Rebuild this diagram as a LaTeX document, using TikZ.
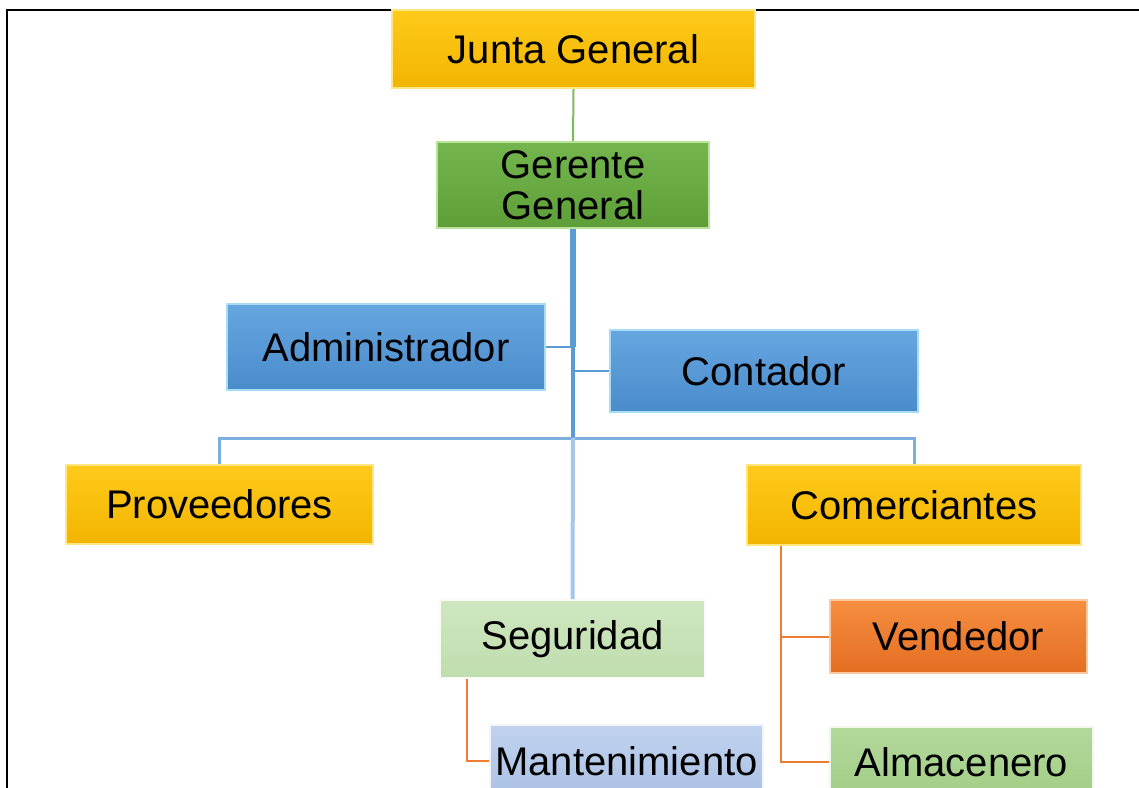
\documentclass[tikz,border=0pt]{standalone}
\usepackage{fontspec}
\setmainfont{Liberation Sans}
\definecolor{goldT}{HTML}{FFCA1A}
\definecolor{goldB}{HTML}{F2B500}
\definecolor{goldE}{HTML}{FFE680}
\definecolor{grnT}{HTML}{74B64D}
\definecolor{grnB}{HTML}{5E9E38}
\definecolor{grnE}{HTML}{B9E39A}
\definecolor{bluT}{HTML}{66A6E0}
\definecolor{bluB}{HTML}{4A8BCB}
\definecolor{bluE}{HTML}{A8DCF5}
\definecolor{segT}{HTML}{CFE7C0}
\definecolor{segB}{HTML}{C0DDAE}
\definecolor{manT}{HTML}{C0D2EE}
\definecolor{manB}{HTML}{ABC1E5}
\definecolor{venT}{HTML}{F68E40}
\definecolor{venB}{HTML}{E46E22}
\definecolor{venE}{HTML}{FFC9A0}
\definecolor{almT}{HTML}{B3D89B}
\definecolor{almB}{HTML}{A2CD86}
\definecolor{lineblue}{HTML}{5B9BD5}
\definecolor{lightblue}{HTML}{A6C8E8}
\definecolor{lineorange}{HTML}{ED7D31}
\definecolor{linegreen}{HTML}{7FB960}
\tikzset{
  box/.style={rectangle, inner sep=0pt, align=center, line width=2pt,
    font=\fontsize{40}{41}\selectfont, text=black},
  goldbox/.style={box, top color=goldT, bottom color=goldB, draw=goldE},
  greenbox/.style={box, top color=grnT, bottom color=grnB, draw=grnE},
  bluebox/.style={box, top color=bluT, bottom color=bluB, draw=bluE},
  segbox/.style={box, top color=segT, bottom color=segB, draw=white!85!segT},
  manbox/.style={box, top color=manT, bottom color=manB, draw=white!80!manT},
  venbox/.style={box, top color=venT, bottom color=venB, draw=venE},
  almbox/.style={box, top color=almT, bottom color=almB, draw=white!80!almT},
  orangeline/.style={draw=lineorange, line width=2pt},
}
\begin{document}
\begin{tikzpicture}[x=1pt,y=-1pt]
\useasboundingbox (0,0) rectangle (1139,787);
\clip (0,0) rectangle (1139,787);
% frame
\draw[line width=2pt, black] (7,800) -- (7,10) -- (1145,10);
% nodes
\node[goldbox, minimum width=363pt, minimum height=78pt] (junta) at (573.5,49) {Junta General};
\node[greenbox, minimum width=272pt, minimum height=86pt] (gerente) at (573,185) {Gerente\\General};
\node[bluebox, minimum width=318pt, minimum height=86pt] (admin) at (386,347) {Administrador};
\node[bluebox, minimum width=308pt, minimum height=82pt] (contador) at (764,371) {Contador};
\node[goldbox, minimum width=307pt, minimum height=79pt] (prov) at (219.5,504.5) {Proveedores};
\node[goldbox, minimum width=334pt, minimum height=80pt] (comer) at (914,505) {Comerciantes};
\node[segbox, minimum width=265pt, minimum height=78pt] (seg) at (572.5,639) {Seguridad};
\node[manbox, minimum width=273pt, minimum height=72pt] (mant) at (626.5,761) {Mantenimiento};
\node[venbox, minimum width=257pt, minimum height=73pt] (vend) at (958.5,636.5) {Vendedor};
\node[almbox, minimum width=263pt, minimum height=70pt] (alm) at (961.5,762) {Almacenero};
% junction coordinates
\coordinate (j1) at (gerente.south |- admin.east);
\coordinate (j2) at ([xshift=2pt]gerente.south |- contador.west);
\coordinate (j3) at (573,438);
\coordinate (hl) at (prov.north |- j3);
\coordinate (hr) at (comer.north |- j3);
\coordinate (c0) at ([xshift=35pt]comer.south west);
\coordinate (s0) at ([xshift=28pt]seg.south west);
% connectors
\draw[linegreen, line width=2pt] (junta.south) -- (gerente.north);
\draw[lineblue, line width=6pt] (gerente.south) -- (j1);
\draw[lineblue, line width=2.5pt] (admin.east) -- (j1);
\draw[lineblue, line width=4pt] (j1) -- (j3);
\draw[lineblue, line width=2.5pt] (j2) -- (contador.west);
\draw[lineblue!80!white, line width=3pt] (prov.north) -- (hl) -- (hr) -- (comer.north);
\draw[lightblue, line width=4pt] (j3) -- (seg.north);
\draw[orangeline] (c0) -- (c0 |- alm.west) -- (alm.west);
\draw[orangeline] (c0 |- vend.west) -- (vend.west);
\draw[orangeline] (s0) -- (s0 |- mant.west) -- (mant.west);
\end{tikzpicture}
\end{document}
